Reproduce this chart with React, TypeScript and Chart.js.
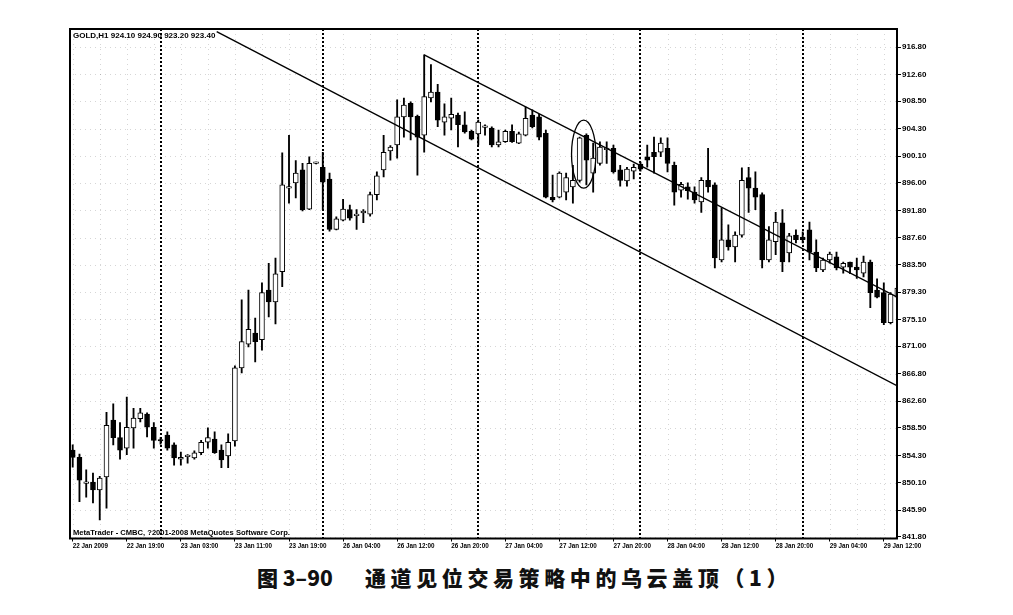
import React, { useEffect, useRef } from "react";
import { Chart, registerables } from "chart.js";

Chart.register(...registerables);

// ---- data (hourly GOLD bars, index 0 = 22 Jan 2009 11:00) ----
const barOpen = [
  855.1, 854.0, 850.0, 850.2, 849.0, 851.0, 859.7, 857.0, 855.4, 858.5,
  859.9, 860.6, 858.6, 856.6, 857.4, 855.9, 853.7, 854.1, 853.9, 854.7,
  856.3, 856.8, 855.1, 854.2, 856.5, 867.7, 871.3, 873.0, 872.0, 879.6,
  877.8, 882.4, 895.2, 896.0, 898.0, 892.0, 899.0, 898.4, 896.6, 888.9,
  890.3, 891.9, 891.0, 891.4, 891.2, 894.2, 898.0, 900.9, 901.8, 906.1,
  908.2, 906.2, 903.3, 909.0, 909.9, 905.3, 905.9, 906.4, 904.9, 903.9,
  903.5, 904.5, 904.4, 901.8, 902.3, 903.9, 902.1, 903.3, 906.4, 906.1,
  903.6, 893.8, 893.8, 894.6, 895.4, 896.4, 903.3, 897.5, 899.0, 901.1,
  901.3, 898.0, 896.3, 897.8, 898.9, 900.0, 900.7, 900.7, 901.3, 898.7,
  894.9, 895.4, 894.6, 893.1, 896.4, 895.7, 884.2, 887.3, 886.2, 888.0,
  896.8, 895.2, 894.2, 884.2, 887.0, 889.9, 885.3, 888.0, 887.7, 888.8,
  885.4, 882.7, 884.2, 884.7, 883.1, 883.9, 883.1, 882.2, 883.9, 879.6,
  879.2, 874.6, 878.5,
];
const barHigh = [
  855.9, 854.5, 852.1, 851.6, 851.1, 860.9, 862.2, 859.3, 863.2, 861.5,
  861.5, 860.8, 859.3, 857.0, 857.9, 856.2, 854.8, 854.4, 855.0, 856.6,
  858.5, 857.9, 855.9, 857.6, 868.0, 878.1, 879.6, 875.3, 880.7, 883.7,
  884.5, 900.6, 903.3, 899.4, 899.0, 900.0, 899.2, 900.7, 897.5, 890.8,
  893.5, 892.6, 891.9, 891.9, 894.6, 897.7, 903.3, 901.7, 908.7, 909.0,
  908.4, 906.4, 915.6, 914.1, 911.1, 908.1, 909.0, 906.7, 906.9, 904.1,
  905.6, 904.9, 904.6, 904.1, 904.1, 904.9, 903.8, 907.6, 907.2, 906.5,
  904.1, 897.2, 897.7, 897.5, 898.7, 903.0, 903.5, 902.1, 902.3, 902.3,
  901.8, 898.7, 898.4, 898.9, 899.2, 901.8, 903.0, 902.9, 902.9, 899.2,
  896.1, 896.0, 895.4, 896.8, 901.3, 896.0, 892.2, 889.6, 888.5, 898.3,
  898.4, 897.7, 894.5, 889.3, 891.5, 891.9, 888.3, 888.8, 888.5, 890.0,
  887.3, 884.5, 885.4, 885.4, 883.9, 883.9, 884.5, 884.8, 884.2, 881.3,
  880.7, 879.2, 880.7,
];
const barLow = [
  852.5, 847.2, 847.9, 847.0, 844.4, 846.2, 855.9, 853.7, 854.4, 855.4,
  859.4, 857.1, 855.4, 856.0, 855.1, 852.8, 852.8, 853.1, 853.7, 854.4,
  855.4, 854.6, 852.4, 852.4, 855.7, 866.9, 870.9, 868.6, 870.4, 875.5,
  874.4, 880.1, 892.9, 893.7, 891.7, 891.9, 898.9, 891.9, 888.6, 888.8,
  890.2, 890.3, 888.9, 889.9, 890.9, 893.4, 896.9, 899.5, 899.8, 903.0,
  902.6, 897.2, 900.7, 908.4, 904.6, 903.3, 904.1, 901.5, 903.6, 902.6,
  901.8, 903.3, 901.5, 901.5, 902.2, 902.2, 902.0, 903.2, 904.4, 902.6,
  893.7, 893.1, 893.7, 893.4, 892.9, 896.1, 895.7, 894.6, 898.7, 899.0,
  897.5, 895.5, 895.5, 896.6, 897.8, 898.4, 897.5, 900.0, 897.7, 892.6,
  893.8, 893.5, 892.9, 891.5, 894.6, 883.0, 883.9, 885.7, 883.9, 887.7,
  891.5, 891.9, 883.0, 883.9, 885.0, 882.4, 883.9, 886.8, 886.8, 884.2,
  882.4, 882.4, 883.7, 882.7, 882.2, 882.1, 881.4, 881.6, 876.9, 878.4,
  874.3, 874.4, 878.1,
];
const barClose = [
  854.0, 850.5, 850.2, 849.0, 850.8, 858.9, 857.0, 855.1, 858.6, 860.0,
  860.8, 858.6, 856.6, 856.5, 855.4, 853.9, 854.0, 854.2, 854.7, 856.3,
  857.0, 854.7, 853.6, 856.3, 867.7, 871.7, 873.6, 871.7, 879.2, 877.8,
  882.1, 895.7, 895.4, 897.5, 891.9, 899.0, 899.1, 896.1, 888.9, 890.5,
  892.0, 890.6, 891.1, 891.7, 894.2, 897.1, 900.7, 901.5, 906.1, 907.9,
  906.1, 903.0, 909.2, 909.9, 905.6, 906.1, 906.5, 904.9, 903.8, 902.7,
  905.3, 904.6, 901.8, 902.3, 903.9, 902.3, 903.5, 905.9, 904.6, 903.0,
  893.8, 893.4, 897.5, 896.8, 896.4, 902.9, 899.5, 899.8, 901.5, 901.2,
  897.7, 896.4, 898.1, 898.4, 898.1, 899.5, 900.0, 902.1, 899.0, 894.6,
  895.8, 894.8, 893.4, 896.4, 895.4, 884.5, 887.3, 886.2, 888.0, 896.4,
  895.2, 893.8, 884.2, 887.3, 890.0, 883.9, 887.9, 887.3, 887.3, 885.4,
  883.0, 884.2, 885.1, 883.0, 883.7, 883.1, 882.7, 883.9, 879.2, 878.5,
  874.6, 879.0, 879.9,
];

const xTickBars = [0, 8, 16, 24, 32, 40, 48, 56, 64, 72, 80, 88, 96, 104, 112, 120];
const xTickLabels = [
  "22 Jan 2009", "22 Jan 19:00", "23 Jan 03:00", "23 Jan 11:00", "23 Jan 19:00",
  "26 Jan 04:00", "26 Jan 12:00", "26 Jan 20:00", "27 Jan 04:00", "27 Jan 12:00",
  "27 Jan 20:00", "28 Jan 04:00", "28 Jan 12:00", "28 Jan 20:00", "29 Jan 04:00",
  "29 Jan 12:00",
];
const yTickValues = [
  841.8, 845.9, 850.1, 854.3, 858.5, 862.6, 866.8, 871.0, 875.1, 879.3,
  883.5, 887.6, 891.8, 896.0, 900.1, 904.3, 908.5, 912.6, 916.8,
];
const daySeparators = [13, 37, 60, 84, 108];
const lowerChannel = [{ x: 21.3, y: 919.15 }, { x: 122.4, y: 864.7 }];
const upperChannel = [{ x: 52, y: 915.6 }, { x: 122.4, y: 878.3 }];
const markEllipse = { x: 75.6, y: 900.4, rx: 1.8, ry: 5.2 };

const headerText = "GOLD,H1 924.10 924.90 923.20 923.40";
const footerText = "MetaTrader - CMBC, ?2001-2008 MetaQuotes Software Corp.";
const captionNum = "图 3–90";
const captionText = "通道见位交易策略中的乌云盖顶（1）";

export default function App() {
  const ref = useRef<HTMLCanvasElement>(null);

  useEffect(() => {
    const canvas = ref.current as HTMLCanvasElement;

    const overlay = {
      id: "mt4Overlay",
      beforeDatasetsDraw(chart: any) {
        const { ctx, chartArea: a, scales } = chart;
        const xs = scales.x;
        const ys = scales.y;
        ctx.save();
        ctx.beginPath();
        ctx.rect(a.left, a.top, a.right - a.left, a.bottom - a.top);
        ctx.clip();
        // faint grid
        ctx.strokeStyle = "rgba(0,0,0,0.16)";
        ctx.lineWidth = 1;
        ctx.setLineDash([1, 4]);
        yTickValues.forEach((v) => {
          const y = Math.round(ys.getPixelForValue(v)) + 0.5;
          ctx.beginPath();
          ctx.moveTo(a.left, y);
          ctx.lineTo(a.right, y);
          ctx.stroke();
        });
        for (let i = 0; i <= 124; i += 4) {
          const x = Math.round(xs.getPixelForValue(i)) + 0.5;
          ctx.beginPath();
          ctx.moveTo(x, a.top);
          ctx.lineTo(x, a.bottom);
          ctx.stroke();
        }
        // period separators
        ctx.strokeStyle = "#000";
        ctx.lineWidth = 2;
        ctx.setLineDash([2, 2]);
        daySeparators.forEach((b) => {
          const x = Math.round(xs.getPixelForValue(b));
          ctx.beginPath();
          ctx.moveTo(x, a.top);
          ctx.lineTo(x, a.bottom);
          ctx.stroke();
        });
        ctx.restore();
      },
      afterDatasetsDraw(chart: any) {
        const { ctx, chartArea: a, scales } = chart;
        const xs = scales.x;
        const ys = scales.y;
        ctx.save();
        // ellipse marking the dark cloud cover
        const cx = xs.getPixelForValue(markEllipse.x);
        const cy = ys.getPixelForValue(markEllipse.y);
        const rx = Math.abs(xs.getPixelForValue(markEllipse.x + markEllipse.rx) - cx);
        const ry = Math.abs(ys.getPixelForValue(markEllipse.y + markEllipse.ry) - cy);
        ctx.strokeStyle = "#000";
        ctx.lineWidth = 1.3;
        ctx.beginPath();
        ctx.ellipse(cx, cy, rx, ry, 0, 0, Math.PI * 2);
        ctx.stroke();
        // texts
        ctx.fillStyle = "#000";
        ctx.font = 'bold 8px "Liberation Sans"';
        ctx.textBaseline = "middle";
        ctx.textAlign = "left";
        ctx.fillText(headerText, a.left + 3, a.top + 7);
        ctx.font = 'bold 7.6px "Liberation Sans"';
        ctx.fillText(footerText, a.left + 3, a.bottom - 6);
        // frame
        ctx.lineWidth = 2;
        ctx.strokeRect(a.left, a.top, a.right - a.left, a.bottom - a.top);
        ctx.restore();
      },
    };

    const bodyColors = barOpen.map((o, i) => (barClose[i] >= o ? "#ffffff" : "#000000"));

    const chart = new Chart(canvas, {
      type: "bar",
      data: {
        datasets: [
          {
            type: "line",
            data: lowerChannel,
            borderColor: "#000",
            borderWidth: 1.4,
            pointRadius: 0,
            order: 0,
          } as any,
          {
            type: "line",
            data: upperChannel,
            borderColor: "#000",
            borderWidth: 1.4,
            pointRadius: 0,
            order: 0,
          } as any,
          {
            type: "bar",
            data: barOpen.map((o, i) => ({ x: i, y: [o, barClose[i]] })),
            backgroundColor: bodyColors,
            borderColor: "#000",
            borderWidth: 1,
            borderSkipped: false,
            barThickness: 5,
            minBarLength: 1.5,
            grouped: false,
            order: 1,
            clip: 0,
          } as any,
          {
            type: "bar",
            data: barLow.map((l, i) => ({ x: i, y: [l, barHigh[i]] })),
            backgroundColor: "#000",
            borderWidth: 0,
            barThickness: 1.2,
            grouped: false,
            order: 2,
            clip: 0,
          } as any,
        ],
      },
      options: {
        animation: false,
        responsive: false,
        devicePixelRatio: 1,
        events: [],
        layout: { padding: { left: 70, top: 29, right: 56, bottom: 0 } },
        plugins: { legend: { display: false }, tooltip: { enabled: false } },
        scales: {
          x: {
            type: "linear",
            min: -0.4,
            max: 121.95,
            offset: false,
            afterBuildTicks: (s: any) => {
              s.ticks = xTickBars.map((v) => ({ value: v }));
            },
            afterFit: (s: any) => {
              s.height = 21.5;
            },
            ticks: {
              autoSkip: false,
              maxRotation: 0,
              minRotation: 0,
              align: "start",
              padding: 1,
              color: "#000",
              font: { family: "Liberation Sans", size: 6.3, weight: "bold" },
              callback: (_v: any, idx: number) => xTickLabels[idx],
            },
            grid: { drawOnChartArea: false, offset: false, tickLength: 3, color: "#000" },
            border: { color: "#000", width: 1 },
          },
          y: {
            type: "linear",
            position: "right",
            min: 841.57,
            max: 919.56,
            beginAtZero: false,
            afterBuildTicks: (s: any) => {
              s.ticks = yTickValues.map((v) => ({ value: v }));
            },
            afterFit: (s: any) => {
              s.width = 60;
            },
            ticks: {
              autoSkip: false,
              padding: 1,
              color: "#000",
              font: { family: "Liberation Sans", size: 8, weight: "bold" },
              callback: (v: any) => Number(v).toFixed(2),
            },
            grid: { drawOnChartArea: false, tickLength: 4, color: "#000" },
            border: { color: "#000", width: 1 },
          },
        },
      } as any,
      plugins: [overlay],
    });

    return () => chart.destroy();
  }, []);

  const capFont = {
    position: "absolute" as const,
    top: 565,
    fontFamily: '"Noto Sans CJK SC", sans-serif',
    fontWeight: 900,
    fontSize: 21,
    lineHeight: "24px",
    whiteSpace: "nowrap" as const,
    color: "#111",
  };

  return (
    <div
      style={{
        position: "absolute",
        left: 0,
        top: 0,
        width: 1013,
        height: 615,
        background: "#fff",
        overflow: "hidden",
      }}
    >
      <canvas
        ref={ref}
        width={1013}
        height={560}
        style={{ position: "absolute", left: 0, top: 0, width: 1013, height: 560 }}
      />
      <div style={{ ...capFont, left: 257 }}>{captionNum}</div>
      <div style={{ ...capFont, left: 365, letterSpacing: "4.6px" }}>{captionText}</div>
    </div>
  );
}
